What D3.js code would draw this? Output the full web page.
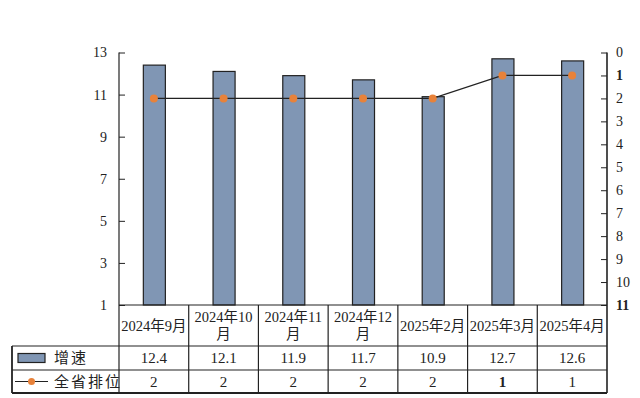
<!DOCTYPE html>
<html><head><meta charset="utf-8">
<script src="https://cdn.jsdelivr.net/npm/d3@7"></script>
<style>body{margin:0;background:#fff}svg{display:block}</style>
</head><body>
<svg id="c" width="640" height="398"></svg>
<script>
const categories = ["2024年9月","2024年10\n月","2024年11\n月","2024年12\n月","2025年2月","2025年3月","2025年4月"];
const growth = [12.4, 12.1, 11.9, 11.7, 10.9, 12.7, 12.6];
const rank = [2, 2, 2, 2, 2, 1, 1];
const leftTicks = [1, 3, 5, 7, 9, 11, 13];
const rightTicks = [0,1,2,3,4,5,6,7,8,9,10,11];
const seriesNames = ["增速", "全省排位"];

const svg = d3.select("#c");
const L = 119, R = 607, T = 52.5, B = 305;
const rowY = [305, 346, 370, 393];
const legendLeft = 12;
const serif = "'Liberation Serif','DejaVu Serif',serif";
const cjk = "'Noto Sans CJK SC',sans-serif";
const barFill = "#8096b4", dark = "#222", orange = "#e8823a";

const x = d3.scaleBand().domain(categories).range([L, R]).paddingInner(0.684).paddingOuter(0.342);
const xc = d3.scaleBand().domain(categories).range([L, R]);
const y = d3.scaleLinear().domain([1, 13]).range([B, T]);
const y2 = d3.scaleLinear().domain([0, 11]).range([T, B]);

// bars
svg.append("g").selectAll("rect").data(growth).join("rect")
  .attr("x", (d,i)=>x(categories[i])+0.5).attr("width", x.bandwidth())
  .attr("y", d=>y(d)).attr("height", d=>B - y(d))
  .attr("fill", barFill).attr("stroke", dark).attr("stroke-width", 1.2);

// left axis
const ga = svg.append("g").attr("transform", `translate(${L},0)`)
  .call(d3.axisLeft(y).tickValues(leftTicks).tickSize(-6).tickPadding(12).tickFormat(d3.format("d")));
ga.select(".domain").remove();
ga.selectAll("line").attr("stroke", dark);
ga.selectAll("text").attr("font-family", serif).attr("font-size", 14).attr("fill", "#222");
svg.append("line").attr("x1", L).attr("x2", L).attr("y1", T).attr("y2", rowY[3]).attr("stroke", dark).attr("stroke-width", 1.2);

// right axis
const gr = svg.append("g").attr("transform", `translate(${R},0)`)
  .call(d3.axisRight(y2).tickValues(rightTicks).tickSize(-6).tickPadding(9).tickFormat(d3.format("d")));
gr.select(".domain").remove();
gr.selectAll("line").attr("stroke", dark);
gr.selectAll("text").attr("font-family", serif).attr("font-size", 14).attr("fill", "#222")
  .attr("font-weight", d => (d===1||d===11) ? "bold" : "normal");
svg.append("line").attr("x1", R).attr("x2", R).attr("y1", T).attr("y2", rowY[3]).attr("stroke", dark).attr("stroke-width", 1.6);

// line
const px = (d,i)=>xc(categories[i]) + xc.bandwidth()/2;
svg.append("path").datum(rank)
  .attr("d", d3.line().x(px).y(d=>y2(d)))
  .attr("fill","none").attr("stroke", dark).attr("stroke-width", 1.2);
svg.append("g").selectAll("circle").data(rank).join("circle")
  .attr("cx", px).attr("cy", d=>y2(d)).attr("r", 4).attr("fill", orange);

// table grid
const tg = svg.append("g").attr("stroke", dark).attr("stroke-width", 1.2);
tg.append("line").attr("x1", L).attr("x2", R).attr("y1", rowY[0]).attr("y2", rowY[0]);
[1,2,3].forEach(k => tg.append("line").attr("x1", legendLeft).attr("x2", R).attr("y1", rowY[k]).attr("y2", rowY[k]).attr("stroke-width", k===3?1.8:1.2));
tg.append("line").attr("x1", legendLeft).attr("x2", legendLeft).attr("y1", rowY[1]).attr("y2", rowY[3]).attr("stroke-width", 1.8);
categories.slice(1).forEach(c => tg.append("line").attr("x1", xc(c)).attr("x2", xc(c)).attr("y1", rowY[0]).attr("y2", rowY[3]));

// header text
const hg = svg.append("g");
categories.forEach((c,i) => {
  const lines = c.split("\n");
  const cx = xc(c) + xc.bandwidth()/2;
  const cy = (rowY[0]+rowY[1])/2;
  lines.forEach((ln, j) => {
    const t = hg.append("text").attr("x", cx).attr("y", cy + (j - (lines.length-1)/2)*17).attr("dy", "0.35em")
      .attr("text-anchor", "middle").attr("font-size", 14.5).attr("fill", "#222");
    ln.split(/([年月])/).filter(s=>s).forEach(s => {
      t.append("tspan").text(s).attr("font-family", /[年月]/.test(s) ? cjk : serif);
    });
  });
});

// value rows
const vg = svg.append("g").attr("font-family", serif).attr("font-size", 15).attr("fill", "#222").attr("text-anchor", "middle");
growth.forEach((v,i) => vg.append("text").attr("x", xc(categories[i]) + xc.bandwidth()/2).attr("y", (rowY[1]+rowY[2])/2).attr("dy","0.35em").text(d3.format(".1f")(v)));
rank.forEach((v,i) => vg.append("text").attr("x", xc(categories[i]) + xc.bandwidth()/2).attr("y", (rowY[2]+rowY[3])/2).attr("dy","0.35em")
  .attr("font-weight", v===1 && i===5 ? "bold" : "normal").text(v));

// legend cells
const lg = svg.append("g");
const r1 = (rowY[1]+rowY[2])/2, r2 = (rowY[2]+rowY[3])/2;
lg.append("rect").attr("x", 18).attr("y", r1-4.5).attr("width", 27).attr("height", 9).attr("fill", barFill).attr("stroke", dark).attr("stroke-width", 1.2);
lg.append("line").attr("x1", 15).attr("x2", 48).attr("y1", r2).attr("y2", r2).attr("stroke", dark).attr("stroke-width", 1.2);
lg.append("circle").attr("cx", 31.5).attr("cy", r2).attr("r", 3.5).attr("fill", orange);
lg.append("text").attr("x", 54).attr("y", r1).attr("dy","0.35em").attr("font-family", cjk).attr("font-size", 15).attr("letter-spacing", 2).attr("fill","#222").text(seriesNames[0]);
lg.append("text").attr("x", 54).attr("y", r2).attr("dy","0.35em").attr("font-family", cjk).attr("font-size", 15).attr("letter-spacing", 2).attr("fill","#222").text(seriesNames[1]);
</script>
</body></html>
